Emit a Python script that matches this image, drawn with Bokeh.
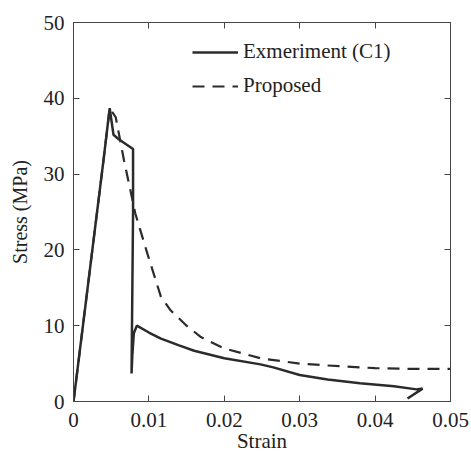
from bokeh.plotting import figure
from bokeh.models import Range1d, LinearAxis, FixedTicker, Legend, LegendItem
from bokeh.embed import file_html
from bokeh.resources import INLINE

# Experiment (C1)
exp_strain = [0, 0.0010, 0.0025, 0.0040, 0.0048, 0.0053, 0.0060, 0.0079, 0.0079, 0.0077,
              0.0078, 0.0080, 0.0084, 0.0100, 0.0116, 0.0140, 0.0160, 0.0200, 0.0248, 0.0265,
              0.0300, 0.0337, 0.0380, 0.0425, 0.0455, 0.0463, 0.0443]
exp_stress = [0, 8, 20, 32, 38.7, 35.2, 34.6, 33.3, 25, 3.7,
              6, 9, 10.0, 9.1, 8.3, 7.4, 6.7, 5.7, 4.9, 4.5,
              3.5, 2.9, 2.4, 2.0, 1.6, 1.7, 0.4]

# Proposed model
prop_strain = [0, 0.0010, 0.0025, 0.0040, 0.0048, 0.0056, 0.0067, 0.0082, 0.0098, 0.0116,
               0.0129, 0.0150, 0.0169, 0.0200, 0.0248, 0.0300, 0.0337, 0.0400, 0.0450, 0.0500]
prop_stress = [0, 8, 20, 32, 38.7, 37.5, 31.8, 24.8, 19.5, 13.8,
               12.0, 10.0, 8.5, 7.0, 5.7, 5.0, 4.75, 4.4, 4.3, 4.3]

x_ticks = [0, 0.01, 0.02, 0.03, 0.04, 0.05]
x_tick_labels = ["0", "0.01", "0.02", "0.03", "0.04", "0.05"]
y_ticks = [0, 10, 20, 30, 40, 50]
y_tick_labels = ["0", "10", "20", "30", "40", "50"]
x_title = "Strain"
y_title = "Stress (MPa)"

FONT = "Liberation Serif"
COL = "#2b2b2b"
TXT = "#222222"

p = figure(width=471, height=455, output_backend="svg", toolbar_location=None,
           x_range=Range1d(0, 0.05), y_range=Range1d(0, 50),
           min_border_left=73, min_border_right=21, min_border_top=22, min_border_bottom=54)
p.background_fill_color = "white"
p.border_fill_color = "white"
p.outline_line_color = "#444444"
p.outline_line_width = 1
p.xgrid.visible = False
p.ygrid.visible = False

r1 = p.line(exp_strain, exp_stress, line_color=COL, line_width=2.5)
r2 = p.line(prop_strain, prop_stress, line_color=COL, line_width=2.2, line_dash="12 8")

def style(ax, ticks, labels, show):
    ax.ticker = FixedTicker(ticks=ticks)
    ax.major_label_overrides = {t: l for t, l in zip(ticks, labels)}
    ax.minor_tick_line_color = None
    ax.major_tick_in = 6
    ax.major_tick_out = 0
    ax.major_tick_line_color = "#444444"
    ax.axis_line_color = "#444444"
    ax.major_label_text_font = FONT
    ax.major_label_text_font_size = "21px" if show else "1px"
    ax.major_label_text_color = TXT if show else None
    ax.axis_label_text_font = FONT
    ax.axis_label_text_font_size = "21px"
    ax.axis_label_text_font_style = "normal"
    ax.axis_label_text_color = TXT

xa = p.xaxis[0]
ya = p.yaxis[0]
style(xa, x_ticks, x_tick_labels, True)
style(ya, y_ticks, y_tick_labels, True)
xa.major_label_standoff = 11
xa.axis_label = x_title
xa.axis_label_standoff = -1
ya.axis_label = y_title
ya.axis_label_text_font_size = "20px"
ya.axis_label_standoff = 10
ya.major_label_standoff = 9

xt = LinearAxis()
yr = LinearAxis()
style(xt, x_ticks, x_tick_labels, False)
style(yr, y_ticks, y_tick_labels, False)
p.add_layout(xt, "above")
p.add_layout(yr, "right")

legend = Legend(items=[LegendItem(label="Exmeriment (C1)", renderers=[r1]),
                       LegendItem(label="Proposed", renderers=[r2])],
                location=(119, 303))
legend.border_line_color = None
legend.background_fill_alpha = 0
legend.label_text_font = FONT
legend.label_text_font_size = "21px"
legend.label_text_color = TXT
legend.glyph_width = 46
legend.glyph_height = 24
legend.label_height = 24
legend.label_standoff = 5
legend.spacing = 9
legend.margin = 0
legend.padding = 0
p.add_layout(legend)

open("out.html", "w").write(file_html(p, INLINE))
